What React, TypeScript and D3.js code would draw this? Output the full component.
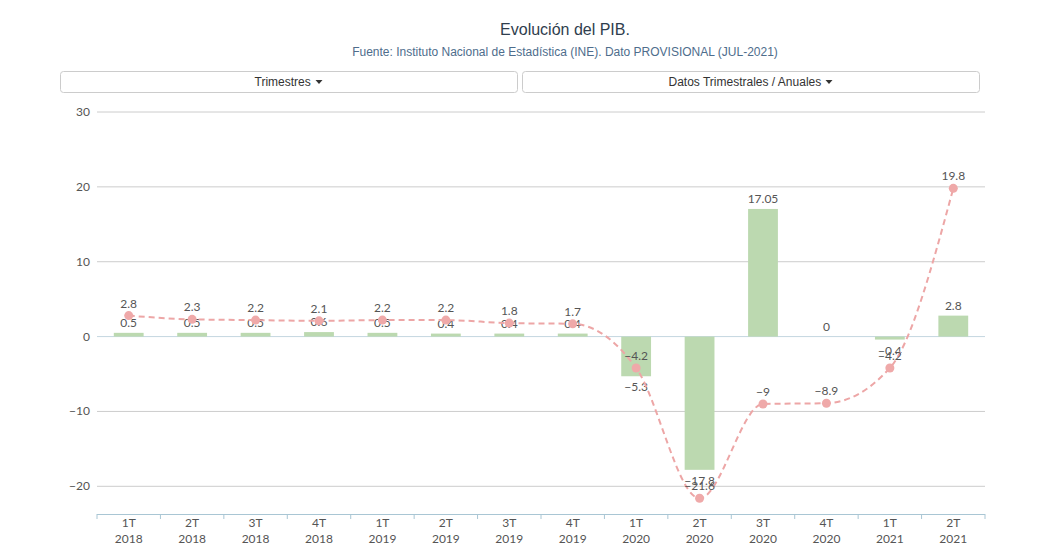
import React from "react";
import * as d3 from "d3";

const categories = ["1T 2018","2T 2018","3T 2018","4T 2018","1T 2019","2T 2019","3T 2019","4T 2019","1T 2020","2T 2020","3T 2020","4T 2020","1T 2021","2T 2021"];
const quarterly = [0.5,0.5,0.5,0.6,0.5,0.4,0.4,0.4,-5.3,-17.8,17.05,0,-0.4,2.8];
const quarterlyLabels = ["0.5","0.5","0.5","0.6","0.5","0.4","0.4","0.4","-5.3","-17.8","17.05","0","-0.4","2.8"];
const annual = [2.8,2.3,2.2,2.1,2.2,2.2,1.8,1.7,-4.2,-21.6,-9,-8.9,-4.2,19.8];
const yTicks = [30,20,10,0,-10,-20];
const buttons = ["Trimestres", "Datos Trimestrales / Anuales"];

const W = 1039, H = 551;
const left = 97, right = 985;
const minus = (s: string) => s.replace("-", "\u2212");

export default function App() {
  const x = d3.scaleBand<string>().domain(categories).range([left, right]).paddingInner(0.53).paddingOuter(0.265);
  const xb = d3.scaleBand<string>().domain(categories).range([left, right]);
  const y = d3.scaleLinear().domain([-23.7, 30]).range([514, 112]);
  const cx = (c: string) => (xb(c) as number) + xb.bandwidth() / 2;
  const line = d3.line<number>().x((_, i) => cx(categories[i])).y(d => y(d)).curve(d3.curveMonotoneX);
  const tickFont = "Lato, 'Open Sans', sans-serif";
  const bx = [[60, 517], [522, 979]];
  const bw = [57, 153];
  return (
    <svg width={W} height={H} style={{ position: "absolute", left: 0, top: 0, background: "#fff" }}>
      <text x={565} y={35} textAnchor="middle" fontFamily="'Liberation Sans', Arial, sans-serif" fontSize={16} fill="#2f3e4e">Evolución del PIB.</text>
      <text x={565} y={56} textAnchor="middle" fontFamily="'Liberation Sans', Arial, sans-serif" fontSize={12} fill="#4e6d8c">Fuente: Instituto Nacional de Estadística (INE). Dato PROVISIONAL (JUL-2021)</text>
      {buttons.map((t, i) => {
        const [x0, x1] = bx[i];
        const mid = (x0 + x1) / 2;
        const total = bw[i] + 11;
        const start = mid - total / 2;
        return (
          <g key={t}>
            <rect x={x0 + 0.5} y={71.5} width={x1 - x0} height={21} rx={3} fill="#fff" stroke="#ccc" />
            <text x={start} y={86} fontFamily="'Liberation Sans', Arial, sans-serif" fontSize={12} fill="#333">{t}</text>
            <path d={`M${start + bw[i] + 4},80 l7,0 l-3.5,4 z`} fill="#333" />
          </g>
        );
      })}
      {yTicks.map(t => (
        <g key={t}>
          {t !== 0 && <line x1={left} x2={right} y1={y(t)} y2={y(t)} stroke="#ccc" />}
          <text x={90} y={y(t) + 4} textAnchor="end" fontFamily={tickFont} fontSize={12} fill="#555">{minus(String(t))}</text>
        </g>
      ))}
      <line x1={left} x2={right} y1={y(0)} y2={y(0)} stroke="#c4d6e0" />
      {categories.map((c, i) => {
        const v = quarterly[i];
        const y0 = y(0), y1 = y(v);
        const top = Math.min(y0, y1), h = Math.abs(y1 - y0);
        return (
          <g key={c}>
            <rect x={x(c)} y={top} width={x.bandwidth()} height={h} fill="#bcd9b0" />
            <text x={cx(c)} y={v >= 0 ? y1 - 6 : y1 + 15} textAnchor="middle" fontFamily={tickFont} fontSize={12} fill="#555">{minus(quarterlyLabels[i])}</text>
          </g>
        );
      })}
      <path d={line(annual) || ""} fill="none" stroke="#eda6a6" strokeWidth={2} strokeDasharray="6,4" />
      {annual.map((v, i) => (
        <g key={i}>
          <circle cx={cx(categories[i])} cy={y(v)} r={4.5} fill="#efa9a9" />
          <text x={cx(categories[i])} y={y(v) - 8} textAnchor="middle" fontFamily={tickFont} fontSize={12} fill="#555">{minus(String(v))}</text>
        </g>
      ))}
      <line x1={left} x2={right} y1={514.5} y2={514.5} stroke="#a9c6d4" />
      {d3.range(categories.length + 1).map(i => {
        const xx = left + i * xb.bandwidth();
        return <line key={i} x1={xx} x2={xx} y1={514} y2={519} stroke="#a9c6d4" />;
      })}
      {categories.map(c => {
        const [a, b] = c.split(" ");
        return (
          <text key={c} textAnchor="middle" fontFamily={tickFont} fontSize={12} fill="#555">
            <tspan x={cx(c)} y={527}>{a}</tspan>
            <tspan x={cx(c)} y={543}>{b}</tspan>
          </text>
        );
      })}
    </svg>
  );
}
